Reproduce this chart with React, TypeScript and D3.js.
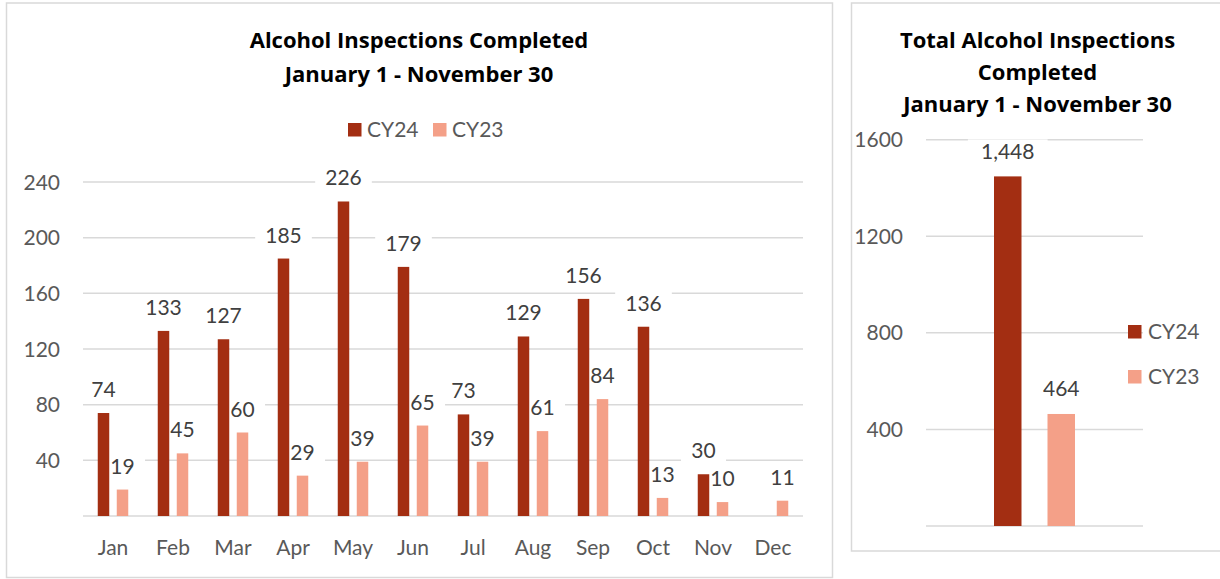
import React from 'react';
import * as d3 from 'd3';

const months = ['Jan', 'Feb', 'Mar', 'Apr', 'May', 'Jun', 'Jul', 'Aug', 'Sep', 'Oct', 'Nov', 'Dec'];
const series = ['CY24', 'CY23'];
const cy24: (number | null)[] = [74, 133, 127, 185, 226, 179, 73, 129, 156, 136, 30, null];
const cy23: (number | null)[] = [19, 45, 60, 29, 39, 65, 39, 61, 84, 13, 10, 11];
const leftTicks = [40, 80, 120, 160, 200, 240];

const totals = [1448, 464];
const rightTicks = [400, 800, 1200, 1600];

const colors: Record<string, string> = { CY24: '#a32e12', CY23: '#f4a088' };
const FONT = 'Lato, "Open Sans", sans-serif';
const TITLE_FONT = '"Open Sans", Lato, sans-serif';
const GRID = '#d9d9d9';
const AXIS_TXT = '#595959';
const LABEL_TXT = '#404040';

// white patch behind a data label, so the gridline is broken (Excel style)
const patchW = (t: string, fs: number) => t.length * fs * 0.55 + 22;

const App: React.FC = () => {
  // ---- left chart ----
  const x0 = d3.scaleBand<string>().domain(months).range([83, 803]).padding(0);
  const groupW = 30.5;
  const x1 = d3.scaleBand<string>().domain(series).range([0, groupW]).paddingInner(0.395).paddingOuter(0);
  const y = d3.scaleLinear().domain([0, 240]).range([516, 182]);
  const groupOff = (x0.bandwidth() - groupW) / 2;
  const fs = 21;

  const rows = months.map((m, i) => ({ m, vals: [cy24[i], cy23[i]] }));
  const barCx = (m: string, j: number) => x0(m)! + groupOff + x1(series[j])! + x1.bandwidth() / 2;

  // ---- right chart ----
  const rx0 = d3.scaleBand<string>().domain(['Total']).range([926, 1143]).padding(0);
  const rGroupW = 81;
  const rx1 = d3.scaleBand<string>().domain(series).range([0, rGroupW]).paddingInner(0.486).paddingOuter(0);
  const ry = d3.scaleLinear().domain([0, 1600]).range([526, 139.7]);
  const rOff = rx0('Total')! + (rx0.bandwidth() - rGroupW) / 2;
  const rCx = (j: number) => rOff + rx1(series[j])! + rx1.bandwidth() / 2;

  const fmt = d3.format(',');

  return (
    <svg width={1220} height={579} style={{ position: 'absolute', left: 0, top: 0, background: '#fff' }} fontFamily={FONT}>
      {/* panel borders */}
      <rect x={6.5} y={3} width={826} height={574.5} fill="#fff" stroke={GRID} strokeWidth={1.5} />
      <rect x={851.5} y={3} width={380} height={548} fill="#fff" stroke={GRID} strokeWidth={1.5} />

      {/* left title */}
      <g fontFamily={TITLE_FONT} fontWeight="bold" fill="#000" textAnchor="middle" fontSize={22}>
        <text x={419} y={48}>Alcohol Inspections Completed</text>
        <text x={419} y={81.5}>January 1 - November 30</text>
      </g>

      {/* left legend */}
      {series.map((s, i) => (
        <g key={s} transform={`translate(${348 + i * 85},123)`}>
          <rect width={13.5} height={13.5} fill={colors[s]} />
          <text x={19} y={14} fontSize={fs} fill={AXIS_TXT}>{s}</text>
        </g>
      ))}

      {/* left grid + ticks */}
      <line x1={83} x2={803} y1={y(0)} y2={y(0)} stroke={GRID} strokeWidth={1.5} />
      {leftTicks.map(t => (
        <g key={t}>
          <line x1={83} x2={803} y1={y(t)} y2={y(t)} stroke={GRID} strokeWidth={1.5} />
          <text x={60} y={y(t) + 7.5} textAnchor="end" fontSize={fs} fill={AXIS_TXT}>{t}</text>
        </g>
      ))}

      {/* label patches first, then bars, then label text */}
      {rows.map(r => r.vals.map((v, j) => v == null ? null : (
        <rect key={`p${r.m}${j}`} x={barCx(r.m, j) - patchW(String(v), fs) / 2}
          y={y(v) - 35} width={patchW(String(v), fs)} height={23} fill="#fff" />
      )))}
      {rows.map(r => r.vals.map((v, j) => v == null ? null : (
        <rect key={`b${r.m}${j}`} x={x0(r.m)! + groupOff + x1(series[j])!} y={y(v)}
          width={x1.bandwidth()} height={y(0) - y(v)} fill={colors[series[j]]} />
      )))}
      {rows.map(r => r.vals.map((v, j) => v == null ? null : (
        <text key={`t${r.m}${j}`} x={barCx(r.m, j)} y={y(v) - 16}
          textAnchor="middle" fontSize={fs} fill={LABEL_TXT}>{v}</text>
      )))}

      {/* month labels */}
      {months.map(m => (
        <text key={m} x={x0(m)! + x0.bandwidth() / 2} y={555} textAnchor="middle" fontSize={fs} fill={AXIS_TXT}>{m}</text>
      ))}

      {/* right title */}
      <g fontFamily={TITLE_FONT} fontWeight="bold" fill="#000" textAnchor="middle" fontSize={22}>
        <text x={1037.5} y={48}>Total Alcohol Inspections</text>
        <text x={1037.5} y={80}>Completed</text>
        <text x={1037.5} y={112}>January 1 - November 30</text>
      </g>

      {/* right grid + ticks */}
      <line x1={926} x2={1143} y1={ry(0)} y2={ry(0)} stroke={GRID} strokeWidth={1.5} />
      {rightTicks.map(t => (
        <g key={t}>
          <line x1={926} x2={1143} y1={ry(t)} y2={ry(t)} stroke={GRID} strokeWidth={1.5} />
          <text x={903} y={ry(t) + 7.5} textAnchor="end" fontSize={fs} fill={AXIS_TXT}>{t}</text>
        </g>
      ))}
      {totals.map((v, j) => (
        <rect key={`rp${j}`} x={rCx(j) - patchW(fmt(v), fs) / 2}
          y={ry(v) - 37} width={patchW(fmt(v), fs)} height={24} fill="#fff" />
      ))}
      {totals.map((v, j) => (
        <rect key={`rb${j}`} x={rOff + rx1(series[j])!} y={ry(v)} width={rx1.bandwidth()}
          height={ry(0) - ry(v)} fill={colors[series[j]]} />
      ))}
      {totals.map((v, j) => (
        <text key={`rt${j}`} x={rCx(j)} y={ry(v) - 17.5}
          textAnchor="middle" fontSize={fs} fill={LABEL_TXT}>{fmt(v)}</text>
      ))}

      {/* right legend */}
      {series.map((s, i) => (
        <g key={s} transform={`translate(1128,${325 + i * 45})`}>
          <rect width={13.5} height={13.5} fill={colors[s]} />
          <text x={20} y={14} fontSize={fs} fill={AXIS_TXT}>{s}</text>
        </g>
      ))}
    </svg>
  );
};

export default App;
